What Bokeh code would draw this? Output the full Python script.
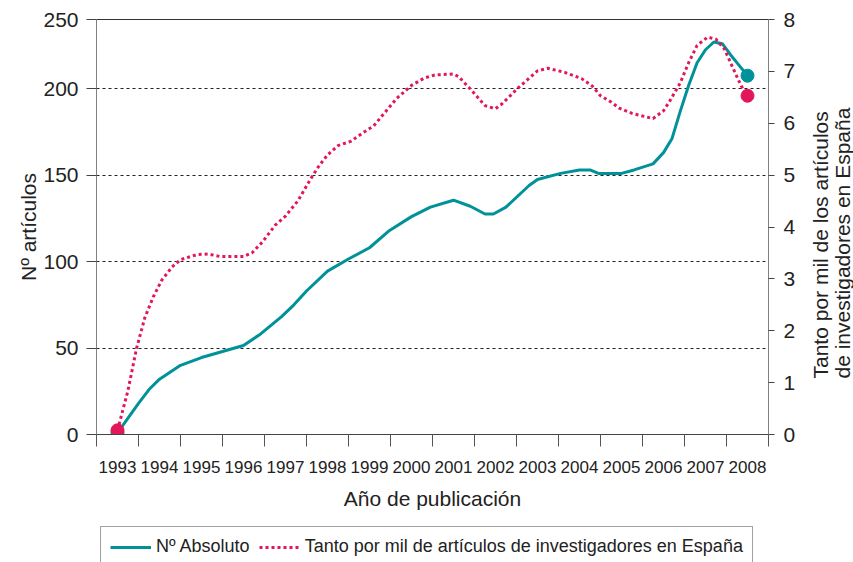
import math
from bokeh.plotting import figure
from bokeh.layouts import column, row
from bokeh.models import Range1d, LinearAxis, FixedTicker, Legend, LegendItem, Label
from bokeh.embed import file_html
from bokeh.resources import INLINE

# ---------------- data ----------------
years = [1993, 1994, 1995, 1996, 1997, 1998, 1999, 2000, 2001, 2002, 2003, 2004, 2005, 2006, 2007, 2008]
year_labels = [str(y) for y in years]
left_ticks = [0, 50, 100, 150, 200, 240]
left_tick_labels = ["0", "50", "100", "150", "200", "250"]
right_ticks = [0, 1, 2, 3, 4, 5, 6, 7, 8]

# Nº absoluto (left axis)
absoluto_x = [1993.0, 1993.5, 1993.75, 1994.0, 1994.5, 1995.0, 1996.0, 1996.4, 1996.9, 1997.2,
              1997.5, 1998.0, 1998.5, 1999.0, 1999.45, 2000.0, 2000.45, 2001.0, 2001.4, 2001.75,
              2001.95, 2002.25, 2002.8, 2003.0, 2003.55, 2004.0, 2004.25, 2004.45, 2005.0, 2005.3,
              2005.75, 2006.0, 2006.2, 2006.4, 2006.6, 2006.8, 2007.0, 2007.2, 2007.4, 2007.6,
              2007.8, 2008.0]
absoluto_y = [1, 18, 26, 32, 40, 44.5, 51.5, 58, 68, 75,
              83, 94.5, 101.5, 108, 117.5, 126, 131.5, 135.5, 132, 127.5,
              127.5, 131.5, 144, 147.5, 151, 153, 153, 151, 151, 153,
              156.5, 163, 171, 187, 202, 215, 222.5, 227, 226, 219.5,
              213.5, 207.5]

# Tanto por mil (right axis)
tanto_x = [1993.0, 1993.25, 1993.45, 1993.65, 1993.85, 1994.05, 1994.3, 1994.5, 1994.9, 1995.15,
           1995.45, 1996.0, 1996.2, 1996.45, 1996.75, 1997.0, 1997.3, 1997.6, 1997.8, 1998.0,
           1998.25, 1998.55, 1998.85, 1999.1, 1999.4, 1999.65, 2000.0, 2000.3, 2000.55, 2001.0,
           2001.12, 2001.4, 2001.75, 2002.0, 2002.15, 2002.55, 2003.0, 2003.25, 2003.65, 2004.05,
           2004.3, 2004.5, 2004.75, 2004.95, 2005.25, 2005.75, 2006.0, 2006.15, 2006.4, 2006.6,
           2006.8, 2007.05, 2007.25, 2007.45, 2007.65, 2007.85, 2008.0]
tanto_y = [0.08, 0.85, 1.65, 2.25, 2.65, 2.97, 3.23, 3.37, 3.47, 3.48,
           3.43, 3.43, 3.5, 3.71, 4.03, 4.21, 4.51, 4.93, 5.18, 5.39,
           5.57, 5.65, 5.82, 5.95, 6.24, 6.48, 6.73, 6.87, 6.93, 6.95,
           6.9, 6.66, 6.34, 6.28, 6.37, 6.69, 7.01, 7.06, 6.98, 6.86,
           6.72, 6.53, 6.41, 6.29, 6.19, 6.09, 6.24, 6.43, 6.78, 7.17,
           7.5, 7.66, 7.62, 7.43, 7.07, 6.72, 6.53]

label_abs = "Nº Absoluto"
label_tanto = "Tanto por mil de artículos de investigadores en España"
right_title = ["Tanto por mil de los artículos", "de investigadores en España"]

TEAL = "#00919A"
PINK = "#E2175A"
FONT = "Liberation Sans"
TXT = "#222222"
W = 853
WR = 53          # strip holding the right-hand title
TOP, BOT = 19, 88

p = figure(width=W - WR, height=522, output_backend="svg", toolbar_location=None,
           x_range=Range1d(years[0] - 0.5, years[-1] + 0.5), y_range=Range1d(0, 240),
           min_border_left=96, min_border_right=32, min_border_top=TOP, min_border_bottom=BOT)
p.extra_y_ranges = {"right": Range1d(0, 8)}
p.outline_line_color = None
p.background_fill_color = "white"
p.border_fill_color = "white"

# bottom axis: labels at year centres, tick marks at boundaries
xa = p.xaxis[0]
xa.ticker = FixedTicker(ticks=years, minor_ticks=[y - 0.5 for y in years] + [years[-1] + 0.5])
xa.major_label_overrides = {y: l for y, l in zip(years, year_labels)}
xa.major_tick_out = 0
xa.major_tick_in = 0
xa.minor_tick_out = 12
xa.minor_tick_in = 0
xa.minor_tick_line_color = "#555555"
xa.axis_line_color = "#444444"
xa.major_label_text_font = FONT
xa.major_label_text_font_size = "17px"
xa.major_label_text_color = TXT
xa.major_label_standoff = 14
xa.axis_label = "Año de publicación"
xa.axis_label_text_font = FONT
xa.axis_label_text_font_size = "21px"
xa.axis_label_text_font_style = "normal"
xa.axis_label_text_color = TXT
xa.axis_label_standoff = 11

# left axis
ya = p.yaxis[0]
ya.ticker = FixedTicker(ticks=left_ticks)
ya.major_label_overrides = {t: l for t, l in zip(left_ticks, left_tick_labels)}
ya.major_tick_out = 10
ya.major_tick_in = 0
ya.minor_tick_line_color = None
ya.major_tick_line_color = "#444444"
ya.axis_line_color = "#808080"
ya.major_label_text_font = FONT
ya.major_label_text_font_size = "21px"
ya.major_label_text_color = TXT
ya.major_label_standoff = 8
ya.axis_label = "Nº artículos"
ya.axis_label_text_font = FONT
ya.axis_label_text_font_size = "21px"
ya.axis_label_text_font_style = "normal"
ya.axis_label_text_color = TXT
ya.axis_label_standoff = 0

# right axis (title drawn in the strip to its right)
ra = LinearAxis(y_range_name="right", ticker=FixedTicker(ticks=right_ticks))
ra.major_tick_out = 6
ra.major_tick_in = 0
ra.minor_tick_line_color = None
ra.major_tick_line_color = "#444444"
ra.axis_line_color = "#808080"
ra.major_label_text_font = FONT
ra.major_label_text_font_size = "21px"
ra.major_label_text_color = TXT
ra.major_label_standoff = 9
p.add_layout(ra, "right")

# top frame line
ta = LinearAxis(ticker=FixedTicker(ticks=[]), major_tick_line_color=None, minor_tick_line_color=None,
                major_tick_out=0, minor_tick_out=0, major_label_standoff=0,
                axis_line_color="#333333")
p.add_layout(ta, "above")

# grid
p.xgrid.visible = False
p.ygrid.ticker = FixedTicker(ticks=[50, 100, 150, 200])
p.ygrid.grid_line_color = "#222222"
p.ygrid.grid_line_dash = "3 3"
p.ygrid.grid_line_width = 1

# series
p.line(absoluto_x, absoluto_y, line_color=TEAL, line_width=3)
p.line(tanto_x, tanto_y, line_color=PINK, line_width=3, line_dash="3 3", y_range_name="right")
p.scatter([absoluto_x[0], absoluto_x[-1]], [absoluto_y[0], absoluto_y[-1]], size=13,
          fill_color=TEAL, line_color=TEAL)
p.scatter([tanto_x[0], tanto_x[-1]], [tanto_y[0], tanto_y[-1]], size=13,
          fill_color=PINK, line_color=PINK, y_range_name="right")

# strip with the right-hand axis title (two lines, reading bottom-to-top, start-aligned)
r = figure(width=WR, height=522, output_backend="svg", toolbar_location=None,
           x_axis_location=None, y_axis_location=None,
           min_border_left=0, min_border_right=0, min_border_top=TOP, min_border_bottom=BOT,
           x_range=Range1d(0, 1), y_range=Range1d(0, 1))
r.outline_line_color = None
r.grid.visible = False
r.background_fill_color = "white"
r.border_fill_color = "white"
for i, txt in enumerate(right_title):
    r.add_layout(Label(x=20 + 22 * i, y=56, x_units="screen", y_units="screen", text=txt,
                       angle=math.pi / 2, text_align="left", text_baseline="middle",
                       text_font=FONT, text_font_size="21px", text_color=TXT))

# legend strip underneath (its box runs past the bottom edge, as in the reference)
q = figure(width=W, height=40, output_backend="svg", toolbar_location=None,
           x_axis_location=None, y_axis_location=None,
           min_border_left=96, min_border_right=0, min_border_top=0, min_border_bottom=0,
           x_range=Range1d(0, 1), y_range=Range1d(0, 1))
q.outline_line_color = None
q.grid.visible = False
q.background_fill_color = "white"
q.border_fill_color = "white"
# legend keys reuse the series (they fall outside this strip's ranges, only the keys show)
k1 = q.line(absoluto_x, absoluto_y, line_color=TEAL, line_width=3)
k2 = q.line(tanto_x, tanto_y, line_color=PINK, line_width=3, line_dash="3 3")
legend = Legend(items=[LegendItem(label=label_abs, renderers=[k1]),
                       LegendItem(label=label_tanto, renderers=[k2])],
                orientation="horizontal", location="top_left", margin=4,
                label_text_font=FONT, label_text_font_size="18px", label_text_color=TXT,
                glyph_width=41, label_standoff=5, spacing=9, padding=9,
                border_line_color="#444444", border_line_width=1,
                background_fill_alpha=0)
q.add_layout(legend, "center")

layout = column(row(p, r, spacing=0), q, spacing=0)
open("out.html", "w").write(file_html(layout, INLINE))
